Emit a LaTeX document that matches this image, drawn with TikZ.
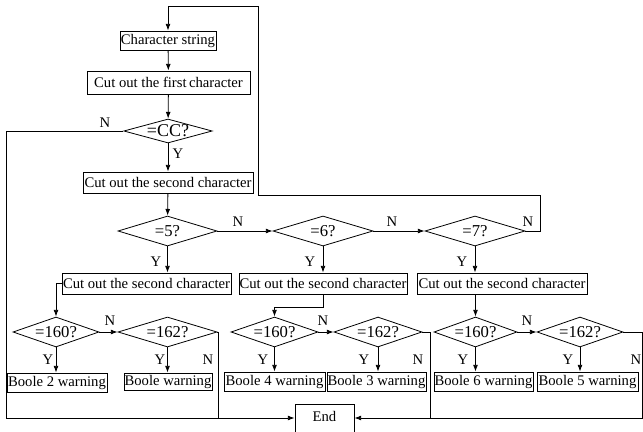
\documentclass[tikz,border=0pt]{standalone}
\usepackage{fontspec}
\setmainfont{Liberation Serif}
\usetikzlibrary{arrows.meta,shapes.geometric}
\begin{document}
\begin{tikzpicture}[x=0.75pt,y=-0.75pt,
  font=\fontsize{11pt}{13pt}\selectfont,
  line width=0.6pt,
  box/.style={draw,inner sep=0pt,rectangle},
  dia/.style={draw,diamond,aspect=3,inner sep=0pt,minimum height=22.5pt,font=\fontsize{12.5pt}{14pt}\selectfont},
  lbl/.style={inner sep=0pt},
  arr/.style={-{Latex[length=5pt,width=3.6pt]}}]
\useasboundingbox (0,0) rectangle (643,432);
% boxes
\node[box,minimum width=72pt,minimum height=14.25pt] (cs) at (168,40.5) {Character string};
\node[box,minimum width=122.25pt,minimum height=17.25pt] (c1) at (168.5,82.5) {Cut out the first\,character};
\node[dia,aspect=3.8,minimum width=64.5pt,minimum height=18pt,font=\fontsize{13.5pt}{15pt}\selectfont] (dcc) at (168,131) {=CC?};
\node[box,minimum width=127.5pt,minimum height=15.75pt] (c2) at (168,182.5) {Cut out the second character};
\node[dia,minimum width=74.25pt] (d5) at (167.5,231) {=5?};
\node[dia,minimum width=75pt] (d6) at (323,231) {=6?};
\node[dia,minimum width=75pt] (d7) at (475,231) {=7?};
\node[box,minimum width=126.75pt,minimum height=15.75pt] (b1) at (146.5,283.5) {Cut out the second character};
\node[box,minimum width=126pt,minimum height=15.75pt] (b2) at (323,283.5) {Cut out the second character};
\node[box,minimum width=127.5pt,minimum height=15.75pt] (b3) at (502,283.5) {Cut out the second character};
\node[dia,minimum width=64.5pt] (e1) at (56,332) {=160?};
\node[dia,minimum width=74.25pt] (e2) at (167.5,332) {=162?};
\node[dia,minimum width=65.25pt] (e3) at (274.5,332) {=160?};
\node[dia,minimum width=66pt] (e4) at (378,332) {=162?};
\node[dia,minimum width=62.25pt] (e5) at (475.5,332) {=160?};
\node[dia,minimum width=64.5pt] (e6) at (580,332) {=162?};
\node[box,minimum width=75pt,minimum height=14.25pt] (w1) at (57,382.5) {Boole 2 warning};
\node[box,minimum width=66pt,minimum height=12.75pt] (w2) at (168,381.5) {Boole warning};
\node[box,minimum width=75.75pt,minimum height=14.25pt] (w3) at (274.5,381.5) {Boole 4 warning};
\node[box,minimum width=74.25pt,minimum height=14.25pt] (w4) at (376.5,381.5) {Boole 3 warning};
\node[box,minimum width=74.25pt,minimum height=14.25pt] (w5) at (483.5,381.5) {Boole 6 warning};
\node[box,minimum width=75.75pt,minimum height=14.25pt] (w6) at (587.5,381.5) {Boole 5 warning};
\node[box,minimum width=44.25pt,minimum height=25.5pt,text height=6.8pt,text depth=6.2pt] (End) at (324.5,421) {End};
% coordinates
\coordinate (l1) at (540,231);
\coordinate (l2) at (540,195);
\coordinate (l3) at (258,195);
\coordinate (l4) at (258,6);
\coordinate (l5) at (168,6);
\coordinate (n1) at (6,131);
\coordinate (n2) at (6,418);
\coordinate (k1) at (323,307);
\coordinate (k2) at (274.5,307);
\coordinate (j1) at (218,332);
\coordinate (j2) at (218,418);
\coordinate (j3) at (430,332);
\coordinate (j4) at (430,418);
\coordinate (j5) at (642,332);
\coordinate (j6) at (642,418);
% connectors
\draw[arr] (cs) -- (c1);
\draw[arr] (c1) -- (dcc);
\draw[arr] (dcc) -- (c2);
\draw[arr] (c2) -- (d5);
\draw[arr] (d7.east) -- (l1) -- (l2) -- (l3) -- (l4) -- (l5) -- (cs.north);
\draw[arr] (dcc.west) -- (n1) -- (n2) -- (End.west |- n2);
\draw[arr] (d5.east) -- (d6.west);
\draw[arr] (d6.east) -- (d7.west);
\draw[arr] (d5.south) -- (d5.south |- b1.north);
\draw[arr] (d6.south) -- (b2.north);
\draw[arr] (d7.south) -- (d7.south |- b3.north);
\draw[arr] (b1.west) -| (e1.north);
\draw[arr] (b2.south) -- (k1) -- (k2) -- (e3.north);
\draw[arr] (e5.north |- b3.south) -- (e5.north);
\draw[arr] (e1.east) -- (e2.west);
\draw[arr] (e3.east) -- (e4.west);
\draw[arr] (e5.east) -- (e6.west);
\foreach \d/\w in {e1/w1,e2/w2,e3/w3,e4/w4,e5/w5,e6/w6}
  \draw[arr] (\d.south) -- (\d.south |- \w.north);
\draw (e2.east) -- (j1) -- (j2);
\draw[arr] (e4.east) -- (j3) -- (j4) -- (End.east |- j4);
\draw (e6.east) -- (j5) -- (j6) -- (j4);
% labels
\node[lbl] (tN1) at (105,123) {N};
\node[lbl] (tY1) at (178,154) {Y};
\node[lbl] (tN2) at (238,222) {N};
\node[lbl] (tN3) at (392,222) {N};
\node[lbl] (tN4) at (528,222) {N};
\node[lbl] (tY2) at (156,262) {Y};
\node[lbl] (tY3) at (310,262) {Y};
\node[lbl] (tY4) at (462,262) {Y};
\node[lbl] (tN5) at (110,321) {N};
\node[lbl] (tN6) at (323,321) {N};
\node[lbl] (tN7) at (527,321) {N};
\node[lbl] (tY5) at (48,360) {Y};
\node[lbl] (tY6) at (160,360) {Y};
\node[lbl] (tN8) at (208,360) {N};
\node[lbl] (tY7) at (263,360) {Y};
\node[lbl] (tY8) at (364,360) {Y};
\node[lbl] (tN9) at (418,360) {N};
\node[lbl] (tY9) at (463,360) {Y};
\node[lbl] (tY10) at (568,360) {Y};
\node[lbl] (tN10) at (636,360) {N};
\end{tikzpicture}
\end{document}
